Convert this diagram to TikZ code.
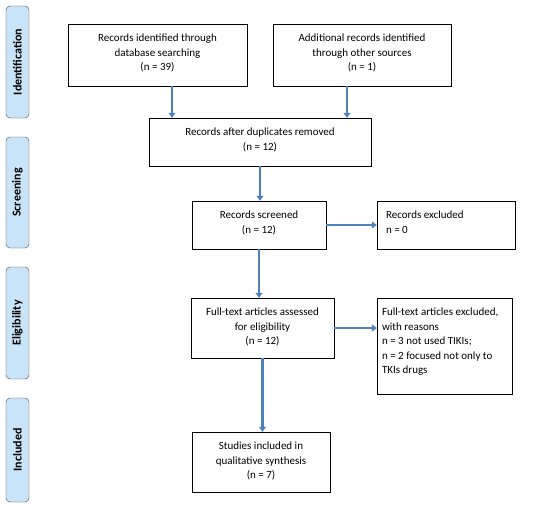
\documentclass[tikz,border=0pt]{standalone}
\usepackage{fontspec}
\setmainfont{Carlito}
\usetikzlibrary{arrows.meta}

\definecolor{flowblue}{RGB}{79,129,189}
\definecolor{stagefill}{RGB}{201,227,248}
\definecolor{stageline}{RGB}{70,70,70}

% text of a box, set from its top
\newcommand{\flowtext}[4][\centering]{\parbox[c][#3][t]{#2}{#1\vspace{10pt}#4}}

\begin{document}
\begin{tikzpicture}[x=1pt,y=-1pt,
    stage/.style={draw=stageline,fill=stagefill,rounded corners=4pt,
      minimum width=23pt,inner sep=0pt,
      font=\fontsize{12}{14}\selectfont\bfseries},
    flowbox/.style={draw=black,inner sep=0pt,
      font=\fontsize{11}{14.5}\selectfont}]
  \useasboundingbox (0,0) rectangle (535,515);
  % stages on the left
  \begin{scope}[every node/.style={stage}]
    \node[minimum height=112pt] (ident) at (17.5,62) {\rotatebox{90}{Identification}};
    \node[minimum height=111pt] (screen) at (17.5,192.5) {\rotatebox{90}{Screening}};
    \node[minimum height=112pt] (elig) at (17.5,323) {\rotatebox{90}{Eligibility}};
    \node[minimum height=104pt] (incl) at (17.5,450) {\rotatebox{90}{Included}};
  \end{scope}
  % boxes
  \begin{scope}[every node/.style={flowbox}]
    \node (dbsearch) at (157.5,55) {\flowtext{179pt}{62pt}{Records identified through\\database searching\\(n = 39)}};
    \node (other) at (362,55) {\flowtext{178pt}{62pt}{Additional records identified\\through other sources\\(n = 1)}};
    \node (dup) at (260,142) {\flowtext{222pt}{48pt}{Records after duplicates removed\\(n = 12)}};
    \node (screened) at (259,225) {\flowtext{134pt}{48pt}{Records screened\\(n = 12)}};
    \node (excl) at (446,225) {\flowtext[\raggedright\leftskip=9pt]{138pt}{48pt}{Records excluded\\n = 0}};
    \node (fulltext) at (262.5,328) {\flowtext{143pt}{60pt}{Full-text articles assessed\\for eligibility\\(n = 12)}};
    \node (exclreason) at (444.5,346) {\flowtext[\raggedright\leftskip=5pt]{135pt}{96pt}{Full-text articles excluded,\\with reasons\\n = 3 not used TIKIs;\\n = 2 focused not only to\\TKIs drugs}};
    \node (included) at (261,462) {\flowtext{138pt}{60pt}{Studies included in\\qualitative synthesis\\(n = 7)}};
  \end{scope}
  % arrows
  \begin{scope}[every edge/.style={draw=flowblue,line width=2.6pt,
      -{Triangle[length=5pt,width=7pt]}}]
    \path ([xshift=14.5pt]dbsearch.south) edge ([xshift=14.5pt]dbsearch.south |- dup.north);
    \path ([xshift=-15pt]other.south) edge ([xshift=-15pt]other.south |- dup.north);
    \path (dup.south) edge (dup.south |- screened.north);
    \path (screened.east) edge (screened.east -| excl.west);
    \path (screened.south) edge (screened.south |- fulltext.north);
    \path (fulltext.east) edge (fulltext.east -| exclreason.west);
    \path (fulltext.south) edge (fulltext.south |- included.north);
  \end{scope}
\end{tikzpicture}
\end{document}
